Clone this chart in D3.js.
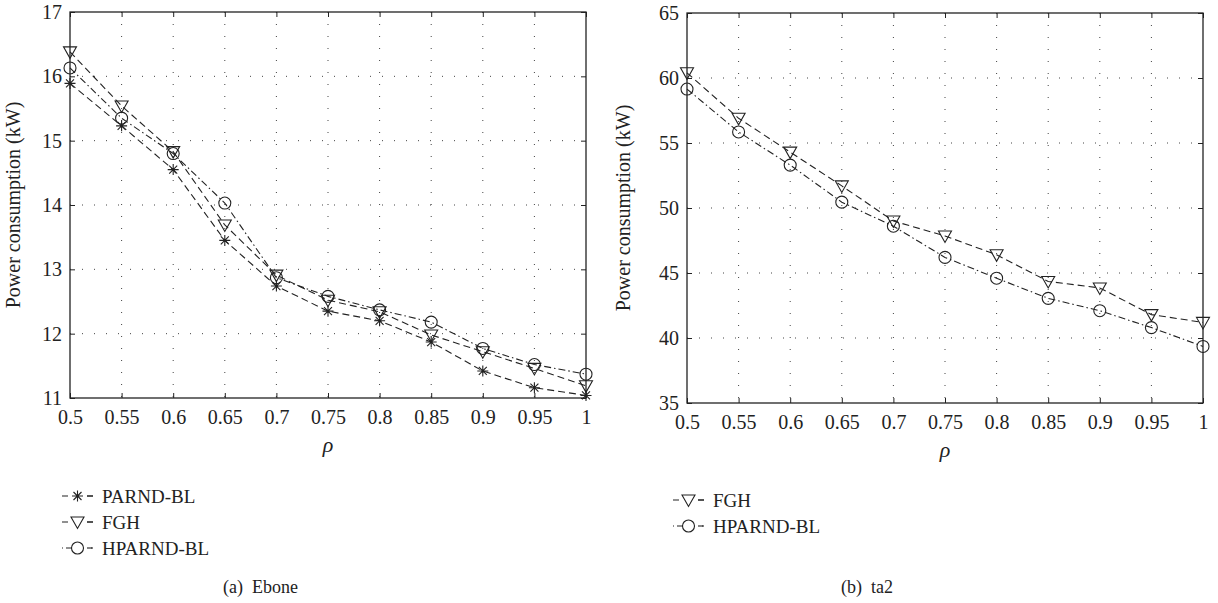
<!DOCTYPE html>
<html>
<head>
<meta charset="utf-8">
<script src="https://cdn.jsdelivr.net/npm/d3@7"></script>
<style>
  body { margin: 0; background: #fff; }
  svg text { font-family: "Liberation Serif", "Times New Roman", serif !important; fill: #222; }
</style>
</head>
<body>
<div class="fig"></div>
<script>
// x values (rho) shared by both panels
var rho = [0.5, 0.55, 0.6, 0.65, 0.7, 0.75, 0.8, 0.85, 0.9, 0.95, 1];
var xTickLabels = ["0.5", "0.55", "0.6", "0.65", "0.7", "0.75", "0.8", "0.85", "0.9", "0.95", "1"];

// (a) Ebone
var eboneParnd = [15.89, 15.23, 14.55, 13.45, 12.74, 12.35, 12.20, 11.87, 11.42, 11.16, 11.04];
var eboneFgh = [16.38, 15.54, 14.83, 13.69, 12.91, 12.52, 12.34, 11.98, 11.72, 11.46, 11.19];
var eboneHparnd = [16.13, 15.35, 14.80, 14.03, 12.87, 12.58, 12.37, 12.18, 11.77, 11.52, 11.37];
var eboneYTicks = [11, 12, 13, 14, 15, 16, 17];

// (b) ta2
var ta2Fgh = [60.4, 56.9, 54.3, 51.7, 49.0, 47.85, 46.4, 44.35, 43.85, 41.8, 41.2];
var ta2Hparnd = [59.15, 55.85, 53.3, 50.45, 48.6, 46.2, 44.6, 43.05, 42.1, 40.8, 39.35];
var ta2YTicks = [35, 40, 45, 50, 55, 60, 65];

var svg = d3.select(".fig").append("svg")
  .attr("width", 1218)
  .attr("height", 603);

var dashStyle = "7,4";
var dashDotStyle = "7,3,1.5,3";

function markerPath(type) {
  if (type == "star") {
    var s = 5.5, d = 4;
    return "M" + (-s) + ",0L" + s + ",0M0," + (-s) + "L0," + s +
      "M" + (-d) + "," + (-d) + "L" + d + "," + d + "M" + (-d) + "," + d + "L" + d + "," + (-d);
  }
  if (type == "tri") {
    return "M-6.5,-5L6.5,-5L0,6.5Z";
  }
  return "M-6,0A6,6 0 1,0 6,0A6,6 0 1,0 -6,0Z";
}

function drawPanel(cfg) {
  var g = svg.append("g")
    .attr("transform", "translate(" + cfg.left + "," + cfg.top + ")");
  var w = cfg.width, h = cfg.height;

  var x = d3.scaleLinear().domain([0.5, 1]).range([0, w]);
  var y = d3.scaleLinear().domain([cfg.yTicks[0], cfg.yTicks[cfg.yTicks.length - 1]]).range([h, 0]);

  // dotted grid
  g.append("g").selectAll("line.gx")
    .data(rho.slice(1, -1))
    .enter().append("line")
    .attr("x1", function(d){ return x(d); })
    .attr("x2", function(d){ return x(d); })
    .attr("y1", 0).attr("y2", h)
    .attr("stroke", "#444").attr("stroke-width", 1)
    .attr("stroke-dasharray", "1,11");
  g.append("g").selectAll("line.gy")
    .data(cfg.yTicks.slice(1, -1))
    .enter().append("line")
    .attr("y1", function(d){ return y(d); })
    .attr("y2", function(d){ return y(d); })
    .attr("x1", 0).attr("x2", w)
    .attr("stroke", "#444").attr("stroke-width", 1)
    .attr("stroke-dasharray", "1,11");

  // axes with inward ticks
  var xAxis = d3.axisBottom(x).tickValues(rho)
    .tickFormat(function(d, i){ return xTickLabels[i]; })
    .tickSizeInner(-5).tickSizeOuter(0).tickPadding(12);
  var yAxis = d3.axisLeft(y).tickValues(cfg.yTicks)
    .tickFormat(d3.format("d"))
    .tickSizeInner(-5).tickSizeOuter(0).tickPadding(8);

  var gx = g.append("g").attr("transform", "translate(0," + h + ")").call(xAxis);
  var gy = g.append("g").call(yAxis);
  g.append("g").call(d3.axisTop(x).tickValues(rho).tickFormat("").tickSizeInner(-5).tickSizeOuter(0));
  g.append("g").attr("transform", "translate(" + w + ",0)")
    .call(d3.axisRight(y).tickValues(cfg.yTicks).tickFormat("").tickSizeInner(-5).tickSizeOuter(0));
  g.selectAll("g").attr("font-family", null);
  g.selectAll(".domain").attr("stroke", "none");
  g.selectAll(".tick line").attr("stroke", "#222");
  gx.selectAll("text").attr("font-size", 20).attr("fill", "#222");
  gy.selectAll("text").attr("font-size", 20).attr("fill", "#222");

  g.append("rect")
    .attr("width", w).attr("height", h)
    .attr("fill", "none").attr("stroke", "#222").attr("stroke-width", 1.3);

  // series
  var line = d3.line()
    .x(function(d){ return x(d[0]); })
    .y(function(d){ return y(d[1]); });

  cfg.series.forEach(function(s, k) {
    var pts = rho.map(function(r, i){ return [r, s.values[i]]; });
    g.append("path")
      .attr("d", line(pts))
      .attr("fill", "none")
      .attr("stroke", "#222")
      .attr("stroke-width", 1.1)
      .attr("stroke-dasharray", s.dash);
    g.selectAll("path.m" + k)
      .data(pts)
      .enter().append("path")
      .attr("class", "m" + k)
      .attr("transform", function(d){ return "translate(" + x(d[0]) + "," + y(d[1]) + ")"; })
      .attr("d", markerPath(s.marker))
      .attr("fill", "none")
      .attr("stroke", "#222")
      .attr("stroke-width", 1.1);
  });

  // axis labels
  g.append("text")
    .attr("transform", "translate(" + cfg.ylabelX + "," + (h / 2) + ") rotate(-90)")
    .attr("text-anchor", "middle")
    .attr("font-size", 20)
    .text("Power consumption (kW)");
  g.append("text")
    .attr("x", w / 2).attr("y", h + 54)
    .attr("text-anchor", "middle")
    .attr("font-size", 22)
    .attr("font-style", "italic")
    .text("ρ");

  // legend
  var lg = svg.append("g")
    .attr("transform", "translate(" + cfg.legendX + "," + cfg.legendY + ")");
  cfg.series.forEach(function(s, i) {
    var row = lg.append("g").attr("transform", "translate(0," + (i * 26) + ")");
    row.append("line")
      .attr("x1", 0).attr("x2", 31)
      .attr("stroke", "#222").attr("stroke-width", 1.1)
      .attr("stroke-dasharray", s.dash == dashStyle ? "6,19" : "1,3,0,0,6,19");
    row.append("line")
      .attr("x1", 25).attr("x2", 31)
      .attr("stroke", "#222").attr("stroke-width", 1.1);
    row.append("path")
      .attr("transform", "translate(15.5,0)")
      .attr("d", markerPath(s.marker))
      .attr("fill", "none").attr("stroke", "#222").attr("stroke-width", 1.1);
    row.append("text")
      .attr("x", 40).attr("y", 7)
      .attr("font-size", 19)
      .text(s.name);
  });

  svg.append("text")
    .attr("x", cfg.captionX).attr("y", 593)
    .attr("font-size", 18)
    .attr("xml:space", "preserve")
    .text(cfg.caption);
}

drawPanel({
  left: 70, top: 12, width: 516, height: 386,
  yTicks: eboneYTicks,
  ylabelX: -50,
  legendX: 62, legendY: 496,
  captionX: 223, caption: "(a)  Ebone",
  series: [
    { name: "PARND-BL", values: eboneParnd, marker: "star", dash: dashStyle },
    { name: "FGH", values: eboneFgh, marker: "tri", dash: dashStyle },
    { name: "HPARND-BL", values: eboneHparnd, marker: "circ", dash: dashDotStyle }
  ]
});

drawPanel({
  left: 687, top: 13, width: 516, height: 390,
  yTicks: ta2YTicks,
  ylabelX: -57,
  legendX: 673, legendY: 500,
  captionX: 841, caption: "(b)  ta2",
  series: [
    { name: "FGH", values: ta2Fgh, marker: "tri", dash: dashStyle },
    { name: "HPARND-BL", values: ta2Hparnd, marker: "circ", dash: dashDotStyle }
  ]
});
</script>
</body>
</html>
